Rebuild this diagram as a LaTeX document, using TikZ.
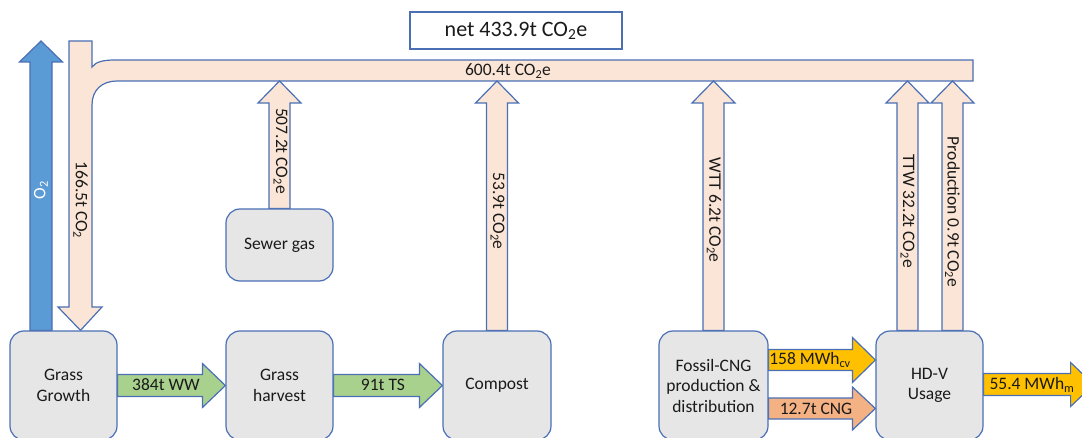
\documentclass[tikz,border=0pt]{standalone}
\usepackage{fontspec}
\setmainfont{Carlito}
\usetikzlibrary{calc,backgrounds}
\definecolor{bord}{HTML}{4A6FB5}
\definecolor{peach}{HTML}{FBE5D6}
\definecolor{boxgray}{HTML}{E6E6E6}
\definecolor{blueo}{HTML}{5B9BD5}
\definecolor{blueb}{HTML}{41719C}
\definecolor{greenf}{HTML}{A9D18E}
\definecolor{goldf}{HTML}{FFC000}
\definecolor{orangef}{HTML}{F4B183}
\definecolor{txt}{HTML}{1A1A1A}
\newcommand\labfont{\fontsize{17.5}{20.5}\selectfont}
% horizontal block arrow: fill, start, tip, body half, head half, head length
\newcommand\HArr[6]{\draw[flow,fill=#1] ([yshift=#4pt]#2) -- ([xshift=-#6pt,yshift=#4pt]#3) -- ([xshift=-#6pt,yshift=#5pt]#3) -- (#3) -- ([xshift=-#6pt,yshift=-#5pt]#3) -- ([xshift=-#6pt,yshift=-#4pt]#3) -- ([yshift=-#4pt]#2) -- cycle;}
% vertical (upward) block arrow: fill, foot, tip, body half, head half, head length
\newcommand\VArr[6]{\draw[flow,fill=#1] ([xshift=-#4pt]#2) -- ([xshift=-#4pt,yshift=-#6pt]#3) -- ([xshift=-#5pt,yshift=-#6pt]#3) -- (#3) -- ([xshift=#5pt,yshift=-#6pt]#3) -- ([xshift=#4pt,yshift=-#6pt]#3) -- ([xshift=#4pt]#2) -- cycle;}
\begin{document}
\begin{tikzpicture}[x=1pt,y=-1pt,
  box/.style={draw=bord, fill=boxgray, rounded corners=14pt, line width=1.2pt,
    minimum width=107pt, minimum height=109pt, align=center, font=\labfont, text=txt, inner sep=0pt},
  flow/.style={draw=bord, line width=1.2pt, line join=miter},
  lbl/.style={font=\labfont, text=txt, inner sep=0pt}]
\useasboundingbox (0,0) rectangle (1082,438);
\clip (0,0) rectangle (1082,438);

% process boxes
\node[box] (gg) at (63.5,385.5) {Grass\\Growth};
\node[box] (gh) at (279.5,385.5) {Grass\\harvest};
\node[box, minimum height=72pt] (sg) at (279.5,245) {Sewer gas};
\node[box, minimum width=108pt] (co) at (497,385.5) {Compost};
\node[box, minimum width=109pt] (fc) at (713.5,385.5) {Fossil-CNG\\production \&\\distribution};
\node[box] (hd) at (929.5,385.5) {HD-V\\Usage};

% helper coordinates
\coordinate (bandbot) at (0,81);
\coordinate (co2tip) at ([xshift=17pt]gg.north);
\coordinate (o2foot) at ([xshift=-22.5pt]gg.north);
\coordinate (o2tip) at (41,41);
\coordinate (ttwfoot) at ([xshift=-22pt]hd.north);
\coordinate (prodfoot) at ([xshift=23pt]hd.north);
\coordinate (cvs) at ([yshift=25.5pt]fc.east);
\coordinate (cve) at ([yshift=25.5pt]hd.west);
\coordinate (cngs) at ([yshift=-23pt]fc.east);
\coordinate (cnge) at ([yshift=-23pt]hd.west);
\coordinate (outtip) at ([xshift=110pt,yshift=1pt]hd.east);
\coordinate (outs) at ([yshift=1pt]hd.east);

\begin{pgfonlayer}{background}
% O2 arrow
\VArr{blueo}{o2foot}{o2tip}{11}{21.5}{21}
% collecting band bent down into Grass Growth
\draw[flow,fill=peach] (69,41) -- (92,41) -- (92,67)
  .. controls (96,61.5) and (104,60) .. (115,60) -- (973,60) -- (973,81) -- (117,81)
  .. controls (102,81) and (92,90) .. (92,105) -- (92,307) -- (102,307) -- (co2tip)
  -- (58,307) -- (69,307) -- cycle;
% vertical emission arrows
\VArr{peach}{sg.north}{sg.north |- bandbot}{10.5}{21.5}{22}
\VArr{peach}{co.north}{co.north |- bandbot}{10.5}{21.5}{22}
\VArr{peach}{fc.north}{fc.north |- bandbot}{10.5}{21.5}{22}
\VArr{peach}{ttwfoot}{ttwfoot |- bandbot}{10.5}{21.5}{22}
\VArr{peach}{prodfoot}{prodfoot |- bandbot}{10.5}{21.5}{22}
% horizontal flows
\HArr{greenf}{gg.east}{gh.west}{11}{22}{23}
\HArr{greenf}{gh.east}{co.west}{11}{22}{23}
\HArr{goldf}{cvs}{cve}{10.5}{22.5}{23}
\HArr{orangef}{cngs}{cnge}{10.5}{21.5}{23}
\HArr{goldf}{outs}{outtip}{11}{22}{23}
\end{pgfonlayer}

% net box
\node[draw=bord, line width=1.2pt, fill=white, minimum width=212pt, minimum height=37pt,
  font=\fontsize{22}{26}\selectfont, text=txt, inner sep=0pt] (net) at (516,30.5) {net 433.9t CO\textsubscript{2}e};

% labels
\node[lbl] (l600) at (508,71) {600.4t CO\textsubscript{2}e};
\node[lbl, rotate=-90] (l166) at (80.5,200) {166.5t CO\textsubscript{2}};
\node[lbl, rotate=90, text=white] (lo2) at (41,190) {O\textsubscript{2}};
\node[lbl, rotate=-90] (l507) at (280.5,151) {507.2t CO\textsubscript{2}e};
\node[lbl, rotate=-90] (l539) at (497.5,211) {53.9t CO\textsubscript{2}e};
\node[lbl, rotate=-90] (lwtt) at (714,210) {WTT 6.2t CO\textsubscript{2}e};
\node[lbl, rotate=-90] (lttw) at (907.5,211) {TTW 32.2t CO\textsubscript{2}e};
\node[lbl, rotate=-90] (lprod) at (952.5,212) {Production 0.9t CO\textsubscript{2}e};
\node[lbl] (lww) at (166,385) {384t WW};
\node[lbl] (lts) at (383,385) {91t TS};
\node[lbl] (lcv) at (810,360) {158 MWh\textsubscript{cv}};
\node[lbl] (lcng) at (816,409) {12.7t CNG};
\node[lbl] (lm) at (1032,385) {55.4 MWh\textsubscript{m}};
\end{tikzpicture}
\end{document}
